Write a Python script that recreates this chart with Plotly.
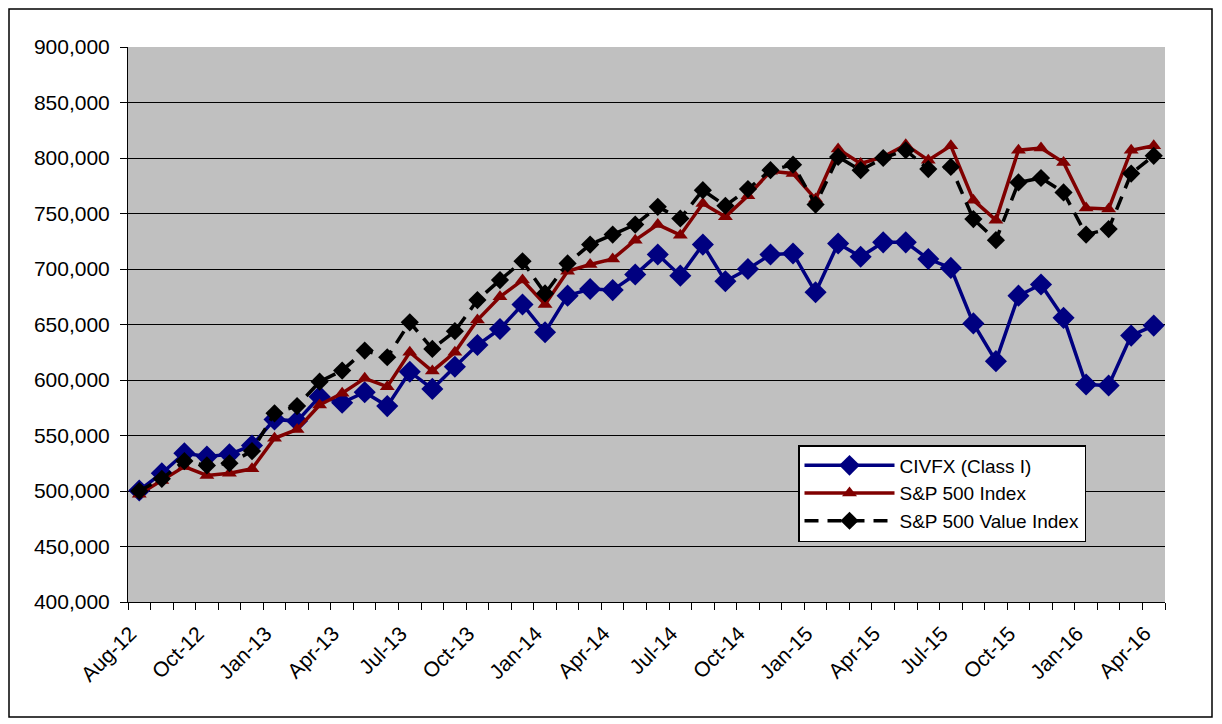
import plotly.graph_objects as go

months = ["Aug-12","Sep-12","Oct-12","Nov-12","Dec-12","Jan-13","Feb-13","Mar-13","Apr-13","May-13",
          "Jun-13","Jul-13","Aug-13","Sep-13","Oct-13","Nov-13","Dec-13","Jan-14","Feb-14","Mar-14",
          "Apr-14","May-14","Jun-14","Jul-14","Aug-14","Sep-14","Oct-14","Nov-14","Dec-14","Jan-15",
          "Feb-15","Mar-15","Apr-15","May-15","Jun-15","Jul-15","Aug-15","Sep-15","Oct-15","Nov-15",
          "Dec-15","Jan-16","Feb-16","Mar-16","Apr-16","May-16"]

civfx = [500500, 516000, 534000, 531000, 533000, 541000, 564500, 563000, 585000, 579500,
         589000, 576500, 607500, 592000, 612000, 631500, 646000, 668000, 643000, 676000,
         682000, 681000, 695000, 713000, 694000, 722000, 689000, 700000, 713000, 714000,
         679000, 723000, 711000, 724000, 724000, 709000, 701000, 651000, 617000, 676000,
         686000, 656000, 596000, 595000, 640000, 649000]

sp500 = [497000, 509500, 522000, 514000, 516000, 520000, 547500, 555500, 577500, 588000,
         601500, 594000, 625000, 608000, 625000, 654000, 675000, 690000, 668000, 698000,
         704000, 709000, 726000, 740000, 730500, 759000, 747000, 766000, 788000, 786000,
         763000, 808000, 795000, 801000, 812000, 798000, 811000, 762000, 744000, 807000,
         809000, 796000, 755000, 754000, 807000, 811000]

sp500_value = [500000, 511000, 527000, 523000, 525000, 536000, 570000, 576500, 598500, 608500,
               626500, 620500, 652000, 628000, 644000, 672000, 690000, 707000, 678000, 705000,
               722000, 731000, 740000, 756000, 745500, 771000, 757000, 772000, 789000, 794000,
               758000, 801000, 789000, 800000, 807000, 790000, 792000, 745000, 726000, 778000,
               782000, 769000, 731000, 736000, 786000, 802000]

tick_idx = list(range(0, 46, 3))
tick_text = ["Aug-12","Oct-12","Jan-13","Apr-13","Jul-13","Oct-13","Jan-14","Apr-14",
             "Jul-14","Oct-14","Jan-15","Apr-15","Jul-15","Oct-15","Jan-16","Apr-16"]

x = list(range(len(months)))
FONT = "Arial, Liberation Sans, sans-serif"

fig = go.Figure()
fig.add_trace(go.Scatter(
    x=x, y=civfx, name="CIVFX (Class I)", mode="lines+markers",
    line=dict(color="#000080", width=3.5),
    marker=dict(symbol="diamond", size=17, color="#000080"),
    customdata=months))
fig.add_trace(go.Scatter(
    x=x, y=sp500, name="S&P 500 Index", mode="lines+markers",
    line=dict(color="#800000", width=3.5),
    marker=dict(symbol="triangle-up", size=13, color="#800000"),
    customdata=months))
fig.add_trace(go.Scatter(
    x=x, y=sp500_value, name="S&P 500 Value Index", mode="lines+markers",
    line=dict(color="#000000", width=3.5, dash="14px,9px"),
    marker=dict(symbol="diamond", size=14, color="#000000"),
    customdata=months))

L, R, T, B = 128, 57, 47, 122
W, H = 1222, 724
pw, ph = W - L - R, H - T - B

fig.update_layout(
    width=W, height=H,
    margin=dict(l=L, r=R, t=T, b=B),
    paper_bgcolor="white",
    plot_bgcolor="#C0C0C0",
    font=dict(family=FONT, size=21, color="black"),
    showlegend=True,
    legend=dict(
        x=(798 - L) / pw, y=(H - B - 445) / ph, xanchor="left", yanchor="top",
        bgcolor="white", bordercolor="black", borderwidth=1.5,
        font=dict(size=19, family=FONT, color="black"),
        itemwidth=90, tracegroupgap=4,
    ),
    xaxis=dict(
        range=[-0.5, 45.5], tickmode="array", tickvals=tick_idx, ticktext=tick_text,
        tickangle=-45, ticks="", showgrid=False, zeroline=False,
        showline=True, linecolor="black", linewidth=1,
        ticklabelshift=-9, ticklabelstandoff=10,
        minor=dict(tick0=-0.5, dtick=1, ticks="outside", ticklen=7, tickcolor="black", showgrid=False),
        tickfont=dict(size=21, family=FONT),
    ),
    yaxis=dict(
        range=[400000, 900000], tickmode="linear", tick0=400000, dtick=50000,
        tickformat=",d", ticks="outside", ticklen=7, tickcolor="black",
        ticklabelstandoff=6,
        showgrid=True, gridcolor="black", gridwidth=1, zeroline=False,
        showline=True, linecolor="black", linewidth=1,
        tickfont=dict(size=21, family=FONT),
    ),
    shapes=[dict(type="rect", xref="paper", yref="paper",
                 x0=(9 - L) / pw, x1=(1212 - L) / pw,
                 y0=(H - B - 717) / ph, y1=(H - B - 9) / ph,
                 line=dict(color="black", width=1.5), fillcolor="rgba(0,0,0,0)", layer="below")],
)

fig.write_html("out.html")
